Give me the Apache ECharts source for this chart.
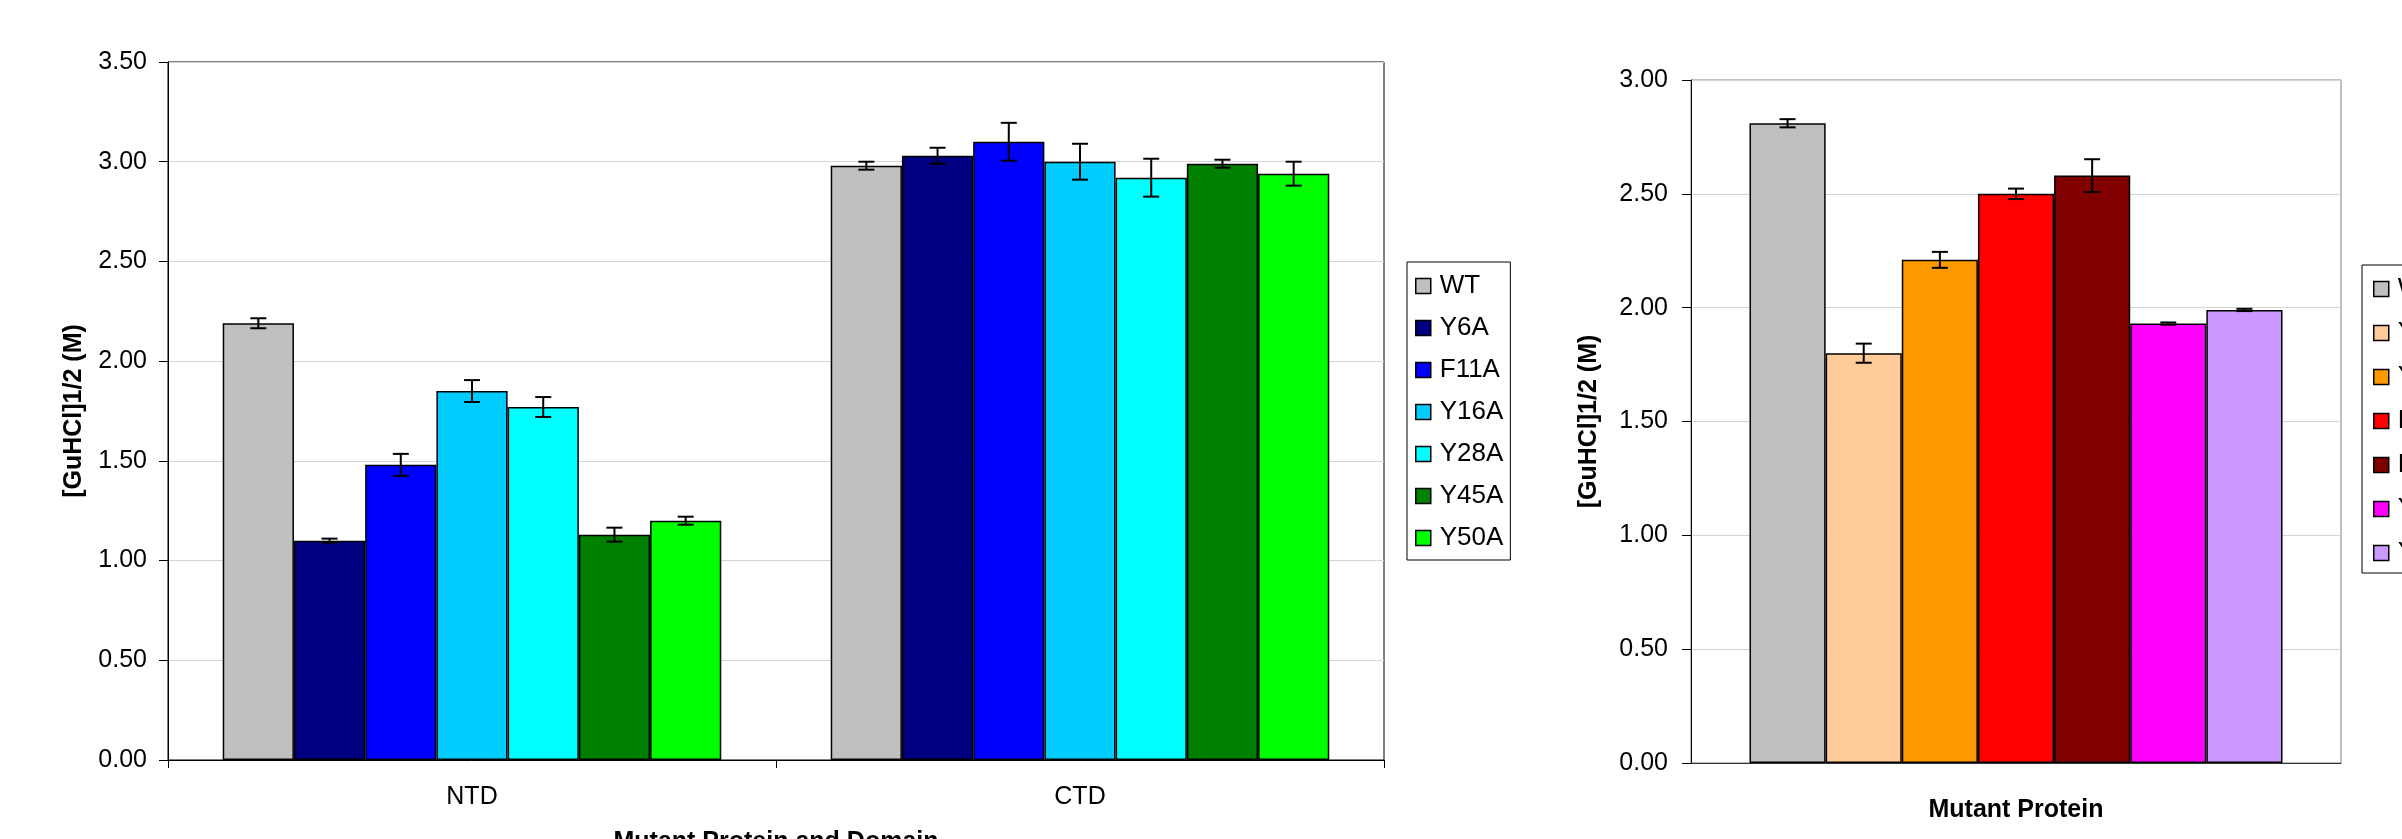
<!DOCTYPE html>
<html>
<head>
<meta charset="utf-8">
<title>GuHCl midpoints</title>
<script src="https://cdn.jsdelivr.net/npm/echarts@6/dist/echarts.min.js"></script>
<style>
  html, body { margin: 0; padding: 0; background: #fff; overflow: hidden; }
  #domains { position: absolute; left: 0; top: 0; width: 1540px; height: 839px; }
  #protein { position: absolute; left: 1540px; top: 0; width: 862px; height: 839px; }
</style>
</head>
<body>
<div id="domains"></div>
<div id="protein"></div>
<script>
// left panel: midpoint per domain
const domains = ['NTD', 'CTD'];
const domainMutants = ['WT', 'Y6A', 'F11A', 'Y16A', 'Y28A', 'Y45A', 'Y50A'];
const domainColors = ['#C0C0C0', '#000080', '#0000FF', '#00CCFF', '#00FFFF', '#008000', '#00FF00'];
const ntdMean = [2.19, 1.10, 1.48, 1.85, 1.77, 1.13, 1.20];
const ntdErr  = [0.025, 0.01, 0.055, 0.055, 0.05, 0.035, 0.02];
const ctdMean = [2.98, 3.03, 3.10, 3.00, 2.92, 2.99, 2.94];
const ctdErr  = [0.02, 0.04, 0.095, 0.09, 0.095, 0.02, 0.06];
const domainAxisMax = 3.5;

// right panel: whole protein (legend is cut off at the image edge)
const proteinCategory = [''];
const proteinMutants = ['WT', 'Y67A', 'Y79A', 'F90A', 'F103A', 'Y117A', 'Y124A'];
const proteinColors = ['#C0C0C0', '#FFCC99', '#FF9900', '#FF0000', '#800000', '#FF00FF', '#CC99FF'];
const proteinMean = [2.81, 1.80, 2.21, 2.50, 2.58, 1.93, 1.99];
const proteinErr  = [0.018, 0.042, 0.035, 0.023, 0.072, 0.005, 0.005];
const proteinAxisMax = 3.0;

const FONT = 'Liberation Sans, Arial, sans-serif';
const GAP = 0.18;

// error bars drawn through the category/value scales, shifted to each bar's slot
function errorBars(nBars) {
    return function (params, api) {
        const cat = api.value(0), mean = api.value(1), err = api.value(2), k = api.value(3);
        const band = api.size([1, 0])[0];
        const barW = band * (1 - GAP) / nBars;
        const dx = (k - (nBars - 1) / 2) * barW;
        const hi = api.coord([cat, mean + err]);
        const lo = api.coord([cat, mean - err]);
        const x = hi[0] + dx;
        const cap = 8;
        const st = { stroke: '#000', lineWidth: 2 };
        return {
            type: 'group',
            children: [
                { type: 'line', shape: { x1: x, y1: hi[1], x2: x, y2: lo[1] }, style: st },
                { type: 'line', shape: { x1: x - cap, y1: hi[1], x2: x + cap, y2: hi[1] }, style: st },
                { type: 'line', shape: { x1: x - cap, y1: lo[1], x2: x + cap, y2: lo[1] }, style: st }
            ]
        };
    };
}

function valueAxis(max, nameGap, labelMargin) {
    return {
        type: 'value', min: 0, max: max, interval: 0.5,
        name: '[GuHCl]1/2 (M)', nameLocation: 'middle', nameGap: nameGap,
        nameTextStyle: { fontFamily: FONT, fontSize: 25, fontWeight: 'bold', color: '#000' },
        axisLine: { show: true, lineStyle: { color: '#000', width: 1 } },
        axisTick: { show: true, length: 9, lineStyle: { color: '#000' } },
        axisLabel: { fontFamily: FONT, fontSize: 25, color: '#000', margin: labelMargin,
            formatter: v => v.toFixed(2) },
        splitLine: { show: true, lineStyle: { color: '#d4d4d4', width: 1 } }
    };
}

function legendOf(names, left, top, gap, padding) {
    return {
        data: names, orient: 'vertical', left: left, top: top,
        icon: 'rect', itemWidth: 15, itemHeight: 15, itemGap: gap,
        padding: padding, borderColor: '#000', borderWidth: 1,
        selectedMode: false,
        itemStyle: { borderColor: '#000', borderWidth: 1.5 },
        textStyle: { fontFamily: FONT, fontSize: 26, color: '#000', lineHeight: 26, padding: [0, 0, 0, 4] }
    };
}

// ---- left chart ----
const domainChart = echarts.init(document.getElementById('domains'));
const domainSeries = domainMutants.map((m, i) => ({
    name: m, type: 'bar',
    data: [ntdMean[i], ctdMean[i]],
    barGap: '0%', barCategoryGap: (GAP * 100) + '%',
    itemStyle: { color: domainColors[i], borderColor: '#000', borderWidth: 1.5 }
}));
const domainErrData = [];
domainMutants.forEach((m, i) => {
    domainErrData.push([0, ntdMean[i], ntdErr[i], i]);
    domainErrData.push([1, ctdMean[i], ctdErr[i], i]);
});
domainSeries.push({
    type: 'custom', name: 'err', z: 10,
    renderItem: errorBars(domainMutants.length),
    data: domainErrData
});
domainChart.setOption({
    animation: false,
    grid: { left: 168, top: 62, width: 1216, height: 698, show: true, borderColor: '#000', borderWidth: 1,
        outerBoundsMode: 'none', containLabel: false },
    legend: legendOf(domainMutants, 1407, 262, 16, [11, 7, 9, 8]),
    xAxis: {
        type: 'category', data: domains,
        name: 'Mutant Protein and Domain', nameLocation: 'middle', nameGap: 70,
        nameTextStyle: { fontFamily: FONT, fontSize: 25, fontWeight: 'bold', color: '#000' },
        axisLine: { lineStyle: { color: '#000', width: 1 } },
        axisTick: { show: true, length: 8, alignWithLabel: false, lineStyle: { color: '#000' } },
        axisLabel: { fontFamily: FONT, fontSize: 25, color: '#000', margin: 25 }
    },
    yAxis: valueAxis(domainAxisMax, 81, 21),
    series: domainSeries
});

// ---- right chart ----
const proteinChart = echarts.init(document.getElementById('protein'));
const proteinSeries = proteinMutants.map((m, i) => ({
    name: m, type: 'bar',
    data: [proteinMean[i]],
    barGap: '0%', barCategoryGap: (GAP * 100) + '%',
    itemStyle: { color: proteinColors[i], borderColor: '#000', borderWidth: 1.5 }
}));
proteinSeries.push({
    type: 'custom', name: 'err', z: 10,
    renderItem: errorBars(proteinMutants.length),
    data: proteinMutants.map((m, i) => [0, proteinMean[i], proteinErr[i], i])
});
proteinChart.setOption({
    animation: false,
    grid: { left: 151, top: 80, width: 650, height: 683, show: true, borderColor: '#808080', borderWidth: 1,
        outerBoundsMode: 'none', containLabel: false },
    legend: legendOf(proteinMutants, 822, 265, 18, [11, 7, 7, 11]),
    xAxis: {
        type: 'category', data: proteinCategory,
        name: 'Mutant Protein', nameLocation: 'middle', nameGap: 35,
        nameTextStyle: { fontFamily: FONT, fontSize: 25, fontWeight: 'bold', color: '#000' },
        axisLine: { lineStyle: { color: '#333', width: 1 } },
        axisTick: { show: false },
        axisLabel: { show: false }
    },
    yAxis: valueAxis(proteinAxisMax, 89, 23),
    series: proteinSeries
});

window.addEventListener('resize', function () {
    domainChart.resize();
    proteinChart.resize();
});
</script>
</body>
</html>
